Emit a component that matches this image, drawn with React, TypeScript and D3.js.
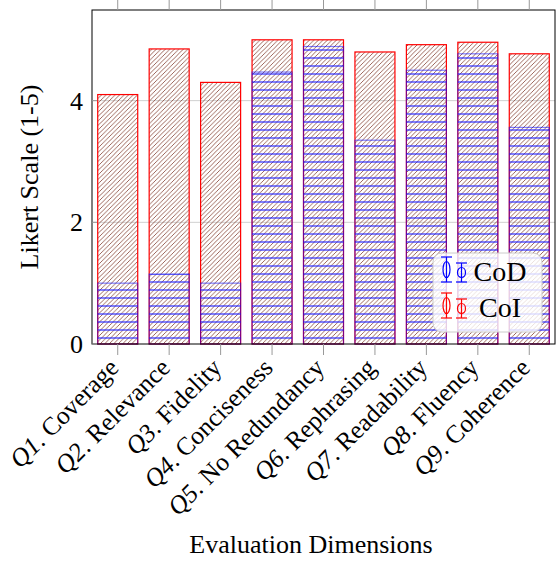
import React from "react";
import * as d3 from "d3";

const categories = [
  "Coverage",
  "Relevance",
  "Fidelity",
  "Conciseness",
  "No Redundancy",
  "Rephrasing",
  "Readability",
  "Fluency",
  "Coherence",
];
const coiValues = [4.1, 4.85, 4.3, 5.0, 5.0, 4.8, 4.92, 4.96, 4.77];
const codValues = [1.0, 1.15, 1.0, 4.47, 4.89, 3.35, 4.5, 4.77, 3.56];
const yTicks = [0, 2, 4];

const W = 558;
const H = 561;
const margin = { top: 10, right: 3, bottom: 217, left: 92 };
const FONT = "'Liberation Serif', 'Times New Roman', serif";

const App = () => {
  const innerW = W - margin.left - margin.right;
  const innerH = H - margin.top - margin.bottom;

  const x = d3.scaleLinear().domain([0.5, categories.length + 0.5]).range([0, innerW]);
  const y = d3.scaleLinear().domain([0, 5.49]).range([innerH, 0]);
  const barW = 40;

  return (
    <svg
      width={W}
      height={H}
      style={{ position: "absolute", left: 0, top: 0, background: "#fff" }}
      fontFamily={FONT}
    >
      <defs>
        <pattern id="ne-lines" width="4.5" height="4.5" patternUnits="userSpaceOnUse">
          <path d="M-1,5.5 L5.5,-1 M-1,1 L1,-1 M3.5,5.5 L5.5,3.5" stroke="#8a4a3e" strokeWidth="0.85" />
        </pattern>
        <pattern id="h-lines" width="8" height="8" patternUnits="userSpaceOnUse" y={innerH % 8 + margin.top - 4}>
          <line x1="0" x2="8" y1="4" y2="4" stroke="#1a1aff" strokeWidth="1.1" />
        </pattern>
      </defs>
      <g transform={`translate(${margin.left},${margin.top})`}>
        {/* grid */}
        {yTicks.filter((t) => t > 0).map((t) => (
          <line key={t} x1={0} x2={innerW} y1={y(t)} y2={y(t)} stroke="#d0d0d0" strokeWidth={1} />
        ))}

        {/* CoI bars */}
        {coiValues.map((v, i) => (
          <rect
            key={"coi" + i}
            x={x(i + 1) - barW / 2}
            y={y(v)}
            width={barW}
            height={innerH - y(v)}
            fill="url(#ne-lines)"
            stroke="#ff0000"
            strokeWidth={1.2}
          />
        ))}

        {/* CoD bars */}
        {codValues.map((v, i) => (
          <rect
            key={"cod" + i}
            x={x(i + 1) - barW / 2}
            y={y(v)}
            width={barW}
            height={innerH - y(v)}
            fill="url(#h-lines)"
            stroke="#0000ff"
            strokeOpacity={0.5}
            strokeWidth={1.2}
          />
        ))}

        {/* axis box */}
        <rect x={0} y={0} width={innerW} height={innerH} fill="none" stroke="#000" strokeWidth={1} />

        {/* x ticks top & bottom */}
        {categories.map((c, i) => (
          <g key={"xt" + i}>
            <line x1={x(i + 1)} x2={x(i + 1)} y1={-10} y2={0} stroke="#999" strokeWidth={1} />
            <line x1={x(i + 1)} x2={x(i + 1)} y1={innerH} y2={innerH + 11} stroke="#999" strokeWidth={1} />
          </g>
        ))}

        {/* y ticks */}
        {yTicks.map((t) => (
          <g key={"yt" + t}>
            <line x1={0} x2={5} y1={y(t)} y2={y(t)} stroke="#999" strokeWidth={1} />
            <text x={-9} y={y(t)} dy="0.35em" textAnchor="end" fontSize={26}>
              {t}
            </text>
          </g>
        ))}

        {/* x labels */}
        {categories.map((c, i) => (
          <text
            key={"xl" + i}
            transform={`translate(${x(i + 1) - 4},${innerH + 19}) rotate(-45)`}
            textAnchor="end"
            dy="0.35em"
            fontSize={25.5}
          >
            <tspan fontStyle="italic">{`Q${i + 1}`}</tspan>
            {`. ${c}`}
          </text>
        ))}

        {/* legend */}
        <g transform={`translate(${433 - margin.left},${253 - margin.top})`}>
          <rect x={0} y={0} width={109} height={79} rx={9} fill="#fff" fillOpacity={0.8} stroke="#cccccc" />
          {[
            { label: "CoD", color: "#0000ff", yy: 4 },
            { label: "CoI", color: "#ff0000", yy: 40 },
          ].map((d) => (
            <g key={d.label} transform={`translate(0,${d.yy})`} stroke={d.color} fill="none" strokeWidth={1.2}>
              <line x1={8} x2={19} y1={0} y2={0} />
              <line x1={8} x2={19} y1={25} y2={25} />
              <line x1={13.5} x2={13.5} y1={0} y2={25} />
              <ellipse cx={13.5} cy={12.5} rx={3.5} ry={8} />
              <line x1={23} x2={34} y1={6} y2={6} />
              <line x1={23} x2={34} y1={25} y2={25} />
              <line x1={28.5} x2={28.5} y1={6} y2={25} />
              <ellipse cx={28.5} cy={15.5} rx={4} ry={5} />
              <text x={67} y={24} textAnchor="middle" fontSize={28} fill="#000" stroke="none">
                {d.label}
              </text>
            </g>
          ))}
        </g>
      </g>

      {/* axis titles */}
      <text
        transform={`translate(38,${margin.top + innerH / 2}) rotate(-90)`}
        textAnchor="middle"
        fontSize={26}
      >
        Likert Scale (1-5)
      </text>
      <text x={311} y={553} textAnchor="middle" fontSize={26}>
        Evaluation Dimensions
      </text>
    </svg>
  );
};

export default App;
